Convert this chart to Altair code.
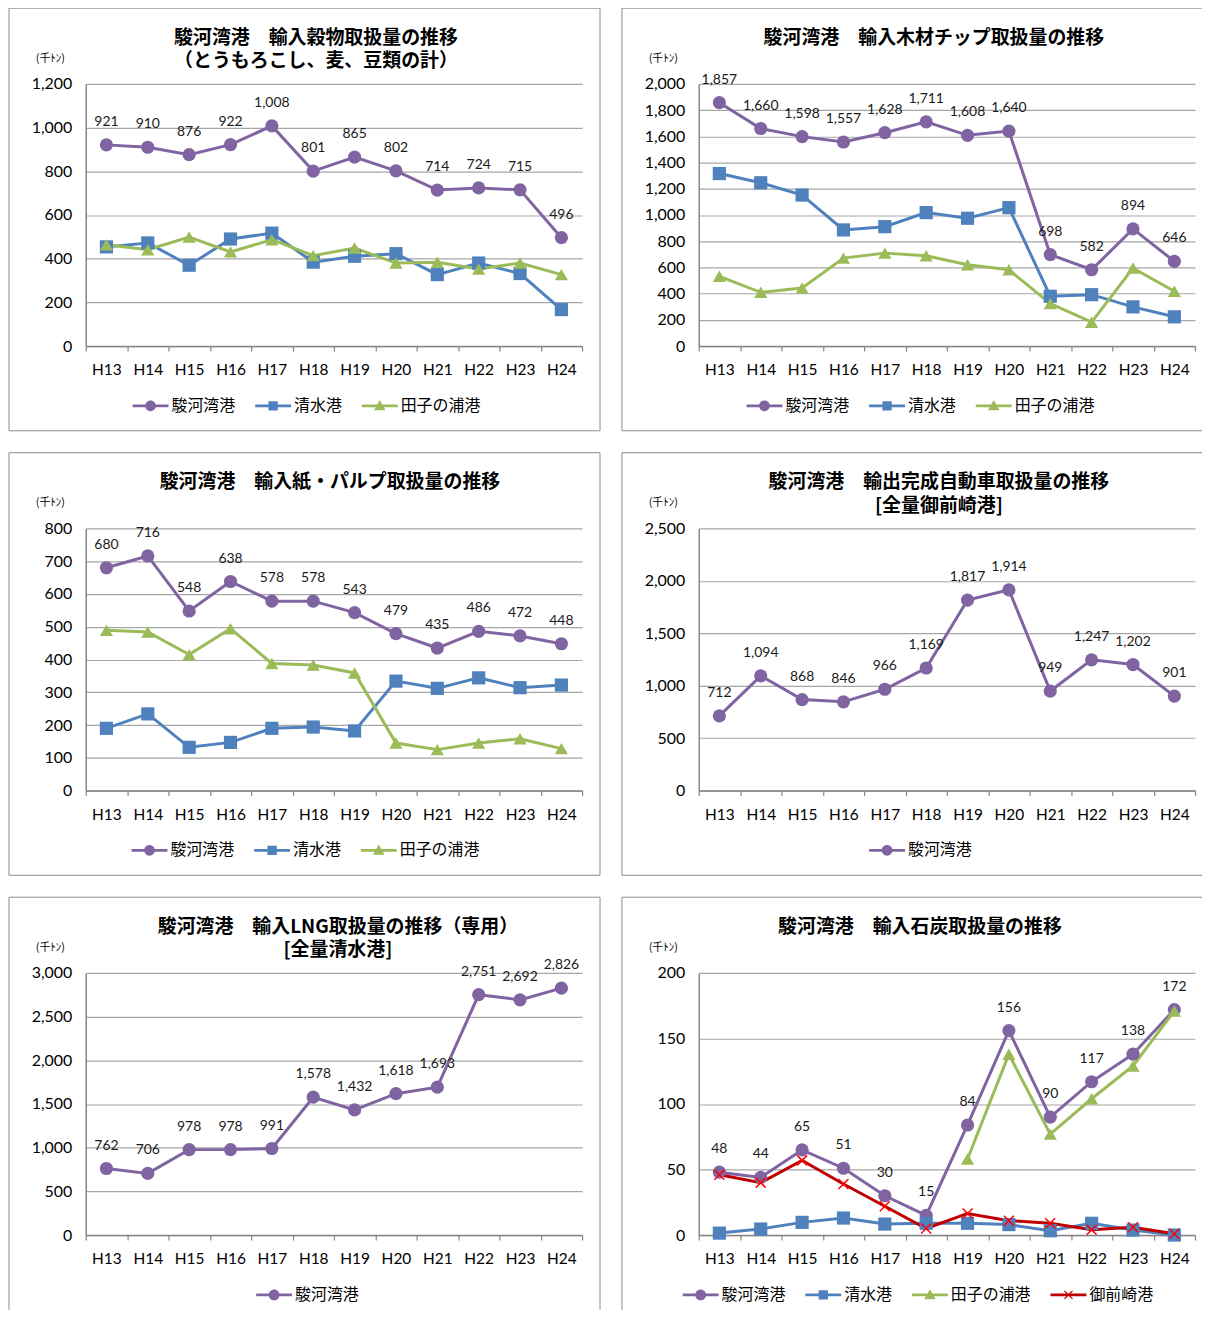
import altair as alt
import pandas as pd

years = ["H13", "H14", "H15", "H16", "H17", "H18", "H19", "H20", "H21", "H22", "H23", "H24"]

SURUGA = "駿河湾港"
SHIMIZU = "清水港"
TAGO = "田子の浦港"
OMAE = "御前崎港"

# 輸入穀物
grain_suruga = [921, 910, 876, 922, 1008, 801, 865, 802, 714, 724, 715, 496]
grain_shimizu = [454, 472, 370, 490, 517, 384, 411, 423, 327, 380, 332, 167]
grain_tago = [464, 441, 499, 431, 487, 414, 449, 380, 384, 353, 380, 327]

# 輸入木材チップ
chip_suruga = [1857, 1660, 1598, 1557, 1628, 1711, 1608, 1640, 698, 582, 894, 646]
chip_shimizu = [1316, 1246, 1152, 886, 911, 1018, 975, 1056, 380, 392, 299, 223]
chip_tago = [532, 410, 443, 671, 709, 689, 620, 582, 324, 182, 595, 418]

# 輸入紙・パルプ
paper_suruga = [680, 716, 548, 638, 578, 578, 543, 479, 435, 486, 472, 448]
paper_shimizu = [190, 234, 132, 147, 190, 194, 182, 334, 312, 344, 314, 322]
paper_tago = [489, 484, 415, 494, 388, 383, 359, 145, 125, 145, 158, 128]

# 輸出完成自動車
car_suruga = [712, 1094, 868, 846, 966, 1169, 1817, 1914, 949, 1247, 1202, 901]

# 輸入LNG
lng_suruga = [762, 706, 978, 978, 991, 1578, 1432, 1618, 1693, 2751, 2692, 2826]

# 輸入石炭
coal_suruga = [48, 44, 65, 51, 30, 15, 84, 156, 90, 117, 138, 172]
coal_shimizu = [1.5, 4.6, 9.7, 13, 8.4, 9, 9, 8, 3.3, 9, 3.8, 0]
coal_tago = [None, None, None, None, None, None, 58, 138, 77, 104, 129, 171]
coal_omae = [46, 40, 57, 39, 22, 5, 16.5, 11, 9, 4, 6, 1]

COLORS = {SURUGA: "#8064A2", SHIMIZU: "#4F81BD", TAGO: "#9BBB59", OMAE: "#C00000"}
POINT_SHAPES = {SURUGA: "circle", SHIMIZU: "square", TAGO: "triangle-up"}
LINE_PART = "M-1,-0.08H1V0.08H-1Z "
LEGEND_PATHS = {
    SURUGA: LINE_PART + "M-0.3,0A0.3,0.3 0 1,1 0.3,0A0.3,0.3 0 1,1 -0.3,0Z",
    SHIMIZU: LINE_PART + "M-0.26,-0.26H0.26V0.26H-0.26Z",
    TAGO: LINE_PART + "M0,-0.32L0.32,0.24H-0.32Z",
    OMAE: LINE_PART + "M-0.25,-0.2L-0.2,-0.25L0.25,0.2L0.2,0.25Z M0.2,-0.25L0.25,-0.2L-0.2,0.25L-0.25,0.2Z",
}
X_MARK = "M-1,-1L1,1M-1,1L1,-1"

FONT_JP = "Noto Sans CJK JP"
FONT_NUM = "Lato"
FRAME_COLOR = "#8c8c8c"


def frame_layers(right_col, bottom_row):
    x_left, x_right = -77, (505 if right_col else 516)
    y_top, y_bot = -76, (338 if bottom_row else 348)
    single = alt.Data(values=[{"k": 0}])
    segs = [
        dict(x=alt.value(x_left), x2=alt.value(x_right), y=alt.value(y_top)),
        dict(x=alt.value(x_left), y=alt.value(y_top), y2=alt.value(y_bot)),
    ]
    if not right_col:
        segs.append(dict(x=alt.value(x_right), y=alt.value(y_top), y2=alt.value(y_bot)))
    if not bottom_row:
        segs.append(dict(x=alt.value(x_left), x2=alt.value(x_right), y=alt.value(y_bot)))
    return [alt.Chart(single).mark_rule(color=FRAME_COLOR, strokeWidth=1).encode(**s) for s in segs]


def build_panel(title_lines, series, ymax, ystep, title_dx, legend_x, right_col, bottom_row):
    rows = []
    for name, vals in series:
        for yr, v in zip(years, vals):
            if v is not None:
                rows.append({"year": yr, "port": name, "value": v})
    df = pd.DataFrame(rows)
    names = [s[0] for s in series]
    cscale = alt.Scale(domain=names, range=[COLORS[n] for n in names])

    xenc = alt.X(
        "year:N", sort=years,
        scale=alt.Scale(type="band", domain=years, paddingInner=0, paddingOuter=0),
        axis=alt.Axis(labelFont=FONT_NUM, labelFontSize=15.5, labelColor="black", labelAngle=0,
                      labelPadding=12, domainColor="#868686", domainWidth=1.5,
                      tickColor="#868686", tickWidth=1.2, tickSize=5, tickBand="extent",
                      grid=False),
        title=None,
    )
    yenc = alt.Y(
        "value:Q",
        scale=alt.Scale(domain=[0, ymax], nice=False),
        axis=alt.Axis(values=list(range(0, ymax + 1, ystep)), format=",.0f",
                      labelFont=FONT_NUM, labelFontSize=16, labelColor="black",
                      labelPadding=14, ticks=False, domainColor="#868686", domainWidth=1.5,
                      grid=True, gridColor="#a6a6a6", gridWidth=1.2,
                      titleFont=FONT_JP, titleFontSize=11, titleFontWeight="normal",
                      titleColor="black", titleAngle=0, titleAlign="center",
                      titleBaseline="middle", titleX=-36, titleY=-26),
        title="(千ﾄﾝ)",
    )

    layers = frame_layers(right_col, bottom_row)

    lines = alt.Chart(df).mark_line(strokeWidth=3).encode(
        x=xenc, y=yenc, color=alt.Color("port:N", scale=cscale, legend=None)
    )
    layers.append(lines)

    pnames = [n for n in names if n != OMAE]
    df_p = df[df["port"].isin(pnames)]
    points = alt.Chart(df_p).mark_point(filled=True, opacity=1, size=175).encode(
        x=xenc, y=yenc,
        color=alt.Color("port:N", scale=alt.Scale(domain=pnames, range=[COLORS[n] for n in pnames]), legend=None),
        shape=alt.Shape("port:N", scale=alt.Scale(domain=pnames, range=[POINT_SHAPES[n] for n in pnames]), legend=None),
    )
    layers.append(points)

    if OMAE in names:
        df_x = df[df["port"] == OMAE]
        xs = alt.Chart(df_x).mark_point(shape=X_MARK, filled=False, opacity=1, size=100,
                                        color="#FF0000", strokeWidth=1.5).encode(x=xenc, y=yenc)
        layers.append(xs)

    df_s = df[df["port"] == SURUGA]
    labels = alt.Chart(df_s).mark_text(dy=-23, fontSize=14, font=FONT_NUM, color="#1a1a1a",
                                        baseline="middle").encode(
        x=xenc, y=yenc, text=alt.Text("value:Q", format=",")
    )
    layers.append(labels)

    leg = alt.Legend(orient="none", legendX=legend_x, legendY=305, direction="horizontal",
                     title=None, labelFont=FONT_JP, labelFontSize=16, labelColor="black",
                     symbolSize=1296, symbolStrokeWidth=0, columnPadding=19, labelOffset=3,
                     labelLimit=200)
    legend_layer = alt.Chart(df).transform_filter("false").mark_point(
        filled=True, opacity=1, size=1296
    ).encode(
        color=alt.Color("port:N", scale=cscale, legend=leg),
        shape=alt.Shape("port:N", scale=alt.Scale(domain=names, range=[LEGEND_PATHS[n] for n in names]), legend=leg),
    )
    layers.append(legend_layer)

    offset = -40 if len(title_lines) == 1 else -64
    return alt.layer(*layers).resolve_scale(color="independent", shape="independent").properties(
        width=498, height=263,
        title=alt.TitleParams(text=title_lines, font=FONT_JP, fontSize=19, fontWeight="bold",
                              color="black", anchor="middle", dx=title_dx, offset=offset,
                              lineHeight=24),
    )


p1 = build_panel(["駿河湾港　輸入穀物取扱量の推移", "（とうもろこし、麦、豆類の計）"],
                 [(SURUGA, grain_suruga), (SHIMIZU, grain_shimizu), (TAGO, grain_tago)],
                 1200, 200, -18, 47, False, False)
p2 = build_panel(["駿河湾港　輸入木材チップ取扱量の推移"],
                 [(SURUGA, chip_suruga), (SHIMIZU, chip_shimizu), (TAGO, chip_tago)],
                 2000, 200, -13, 48, True, False)
p3 = build_panel(["駿河湾港　輸入紙・パルプ取扱量の推移"],
                 [(SURUGA, paper_suruga), (SHIMIZU, paper_shimizu), (TAGO, paper_tago)],
                 800, 100, -4, 46, False, False)
p4 = build_panel(["駿河湾港　輸出完成自動車取扱量の推移", "[全量御前崎港]"],
                 [(SURUGA, car_suruga)],
                 2500, 500, -8, 171, True, False)
p5 = build_panel(["駿河湾港　輸入LNG取扱量の推移（専用）", "[全量清水港]"],
                 [(SURUGA, lng_suruga)],
                 3000, 500, 4, 171, False, True)
p6 = build_panel(["駿河湾港　輸入石炭取扱量の推移"],
                 [(SURUGA, coal_suruga), (SHIMIZU, coal_shimizu), (TAGO, coal_tago), (OMAE, coal_omae)],
                 200, 50, -27, -16, True, True)

chart = alt.concat(p1, p2, p3, p4, p5, p6, columns=2, spacing=20).properties(
    padding={"left": 0, "top": -3, "right": 0, "bottom": 0}, background="white"
).configure_view(stroke=None)

chart.save("out.html", embed_options={"renderer": "svg", "actions": False})
